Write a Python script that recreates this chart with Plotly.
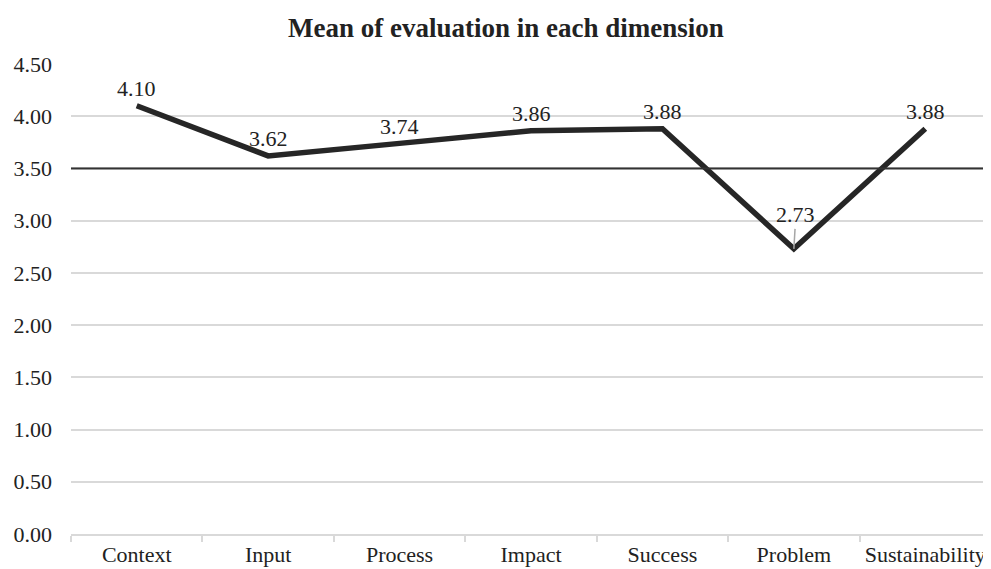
import plotly.graph_objects as go

categories = ["Context", "Input", "Process", "Impact", "Success", "Problem", "Sustainability"]
means = [4.10, 3.62, 3.74, 3.86, 3.88, 2.73, 3.88]
y_ticks = [0, 0.5, 1.0, 1.5, 2.0, 2.5, 3.0, 3.5, 4.0, 4.5]
y_tick_labels = ["0.00", "0.50", "1.00", "1.50", "2.00", "2.50", "3.00", "3.50", "4.00", "4.50"]
reference_level = 3.50

FONT = "Liberation Serif, Times New Roman, serif"
FS = 22

fig = go.Figure()
fig.add_trace(go.Scatter(
    x=categories, y=means, mode="lines",
    line=dict(color="#262626", width=5.5),
    hoverinfo="x+y", showlegend=False,
))

fig.add_shape(type="line", xref="paper", x0=0, x1=1, yref="y",
              y0=reference_level, y1=reference_level,
              line=dict(color="#333333", width=2), layer="above")

annotations = []
for c, v in zip(categories, means):
    if c == "Problem":
        annotations.append(dict(x=c, y=v, text=f"{v:.2f}", showarrow=True,
                                arrowhead=0, arrowwidth=1.5, arrowcolor="#a6a6a6",
                                ax=2, ay=-34, standoff=0,
                                font=dict(family=FONT, size=FS, color="#222222")))
    else:
        annotations.append(dict(x=c, y=v, text=f"{v:.2f}", showarrow=False,
                                yshift=17,
                                font=dict(family=FONT, size=FS, color="#222222")))

# page body has an 8px margin, so the figure is sized to fit the 991x569 window
fig.update_layout(
    width=983, height=561,
    margin=dict(l=63, r=0, t=56, b=35, autoexpand=False),
    paper_bgcolor="white", plot_bgcolor="white",
    font=dict(family=FONT, size=FS, color="#222222"),
    title=dict(text="<b>Mean of evaluation in each dimension</b>",
               x=0.5066, xanchor="center", y=1 - 20 / 561, yanchor="middle",
               font=dict(family=FONT, size=27, color="#222222")),
    annotations=annotations,
)
fig.update_xaxes(
    type="category", tickson="boundaries", showgrid=False,
    showline=True, linecolor="#d9d9d9", linewidth=2,
    ticks="outside", ticklen=6, tickcolor="#d9d9d9", tickwidth=2,
    tickfont=dict(family=FONT, size=FS, color="#222222"),
    range=[-0.5, 6.5], zeroline=False, automargin=False,
)
fig.update_yaxes(
    range=[0, 4.5], tickvals=y_ticks, ticktext=y_tick_labels,
    showgrid=True, gridcolor="#d9d9d9", gridwidth=1.5,
    zeroline=False, showline=False, ticks="",
    ticklabelstandoff=18, automargin=False,
    tickfont=dict(family=FONT, size=FS, color="#222222"),
)

fig.write_html("out.html")
